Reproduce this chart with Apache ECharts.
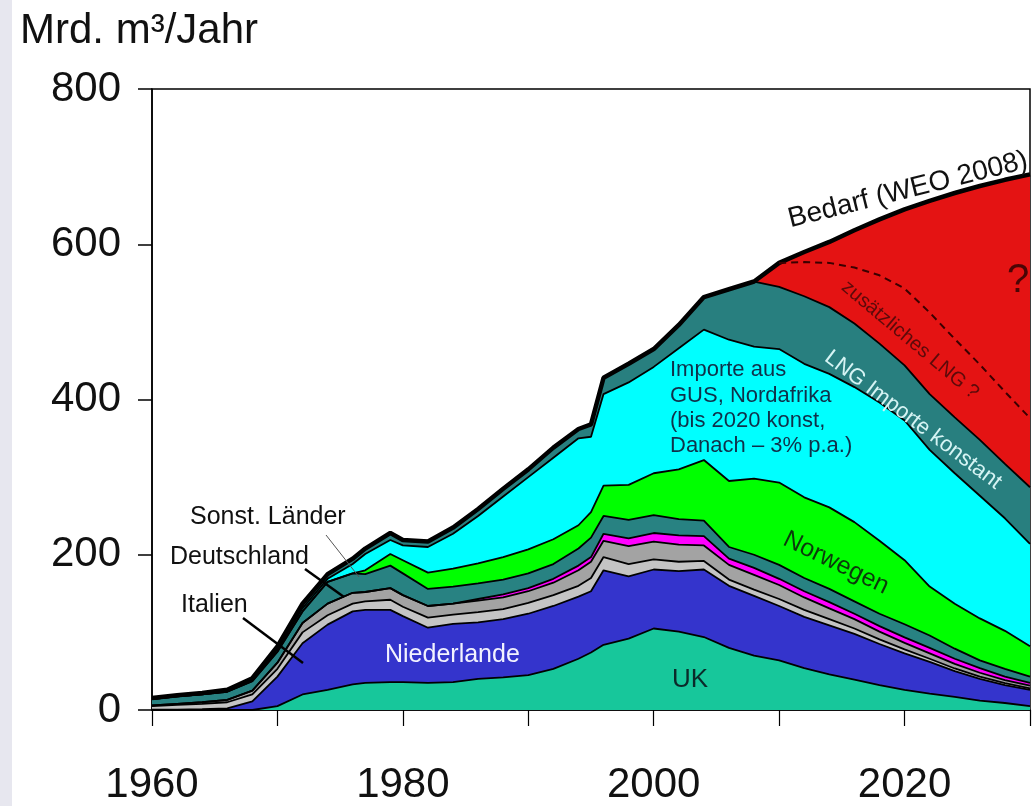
<!DOCTYPE html>
<html><head><meta charset="utf-8">
<script src="https://cdn.jsdelivr.net/npm/echarts@6/dist/echarts.min.js"></script>
<style>html,body{margin:0;padding:0;background:#fff;}#c{width:1033px;height:806px;}</style>
</head><body><div id="c"></div>
<script>
// Years (x values)
const years = [1960,1962,1964,1966,1968,1970,1972,1974,1976,1977,1979,1980,1982,1984,1986,1988,1990,1992,1994,1995,1996,1998,2000,2002,2004,2006,2008,2010,2012,2014,2016,2018,2020,2022,2024,2026,2028,2030];
// Layer values in Mrd. m³/Jahr (bottom to top)
const uk          = [0,0,0,0,0,5,20,26,33,35,36,36,35,36,40,42,45,53,66,74,84,92,105,101,94,80,70,64,54,46,39,32,26,21,17,12,9,5];
const niederlande = [0.3,0.5,1,2,11,38,66,84,94,94,93,85,71,75,73,75,79,81,80,79,96,80,76,78,87,80,77,70,66,63,59,53,47,41,33,28,23,21];
const italien     = [4.7,6,7,8,9,10,14,12,10,11,13,12,13,12,13,13,14,14,14,17,17,16,13,12,11,8,8,9,9,8,7,6,5,4,3.5,3,2.5,2];
const deutschland = [1,1.5,2,3,5,8,12,15,14,12,15,15,15,14,15,15,15,16,20,21,21,23,23,22,20,19,19,18,16,14,12,10,8.5,7,6,5,4,3.5];
const daenemark   = [0,0,0,0,0,0,0,0,0,0,0,0,0,0,2,4,4,5,6,6,9,10,11,12,12,8,9,8,8,8,7,7,7,7,6.5,6,4.5,3.5];
const sonstLaender= [8,9.5,10,10.5,12,14,15,28,25,23,29,28,22,22,20,19,19,19,22,25,23,24,23,21,20,15,17,18,17,17,16,16,17,16,13,10,10,8];
const norwegen    = [0,0,0,0,0,0,0,0,0,5,15,17,21,23,26,29,31,32,30,33,39,45,54,64,78,85,98,106,104,105,102,94,82.5,63,58,54,49,39];
const importeGUS  = [0,0,0,0.5,1,3,4,4,12,21,18,19,33,45,61,78,93,105,112,97,118,132,137,156,168,182,170,172,172,172,174,178,180,176,168,158,145,132];
const lngImporte  = [1.5,1.5,2,2,3,4,6,6,7,7,9,7,7,8,9,10,10,13,12,16,21,24,23,30,42,65,84,80,87,86,82,76,71,72,72,72,70,73];
const zusatzLNG   = [0,0,0,0,0,0,0,0,0,0,0,0,0,0,0,0,0,0,0,0,0,0,0,0,0,0,0,31,57,84,120,160,201,249,289,327,366,403];
// Bedarf (WEO 2008) – top line
const bedarf      = [15.5,19,22,26,41,82,137,175,195,208,228,219,217,235,259,285,310,338,362,368,428,446,465,496,532,542,552,576,590,603,618,632,645,656,666,675,683,690];
// dashed line "zusätzliches LNG ?"
const dashYears   = [2010,2012,2014,2016,2018,2020,2022,2024,2026,2028,2030];
const dashValues  = [576,577,576,570,560,543,512,478,445,410,376];
// axis tick labels
const xLabelYears = [1960,1980,2000,2020];

const FONT = 'Liberation Sans, Arial, sans-serif';
const layers = [
  {name:'UK', data:uk, color:'#17c79b'},
  {name:'Niederlande', data:niederlande, color:'#3434cc'},
  {name:'Italien', data:italien, color:'#c4c4c4'},
  {name:'Deutschland', data:deutschland, color:'#a3a3a3'},
  {name:'Dänemark', data:daenemark, color:'#ff00ff'},
  {name:'Sonst. Länder', data:sonstLaender, color:'#288282'},
  {name:'Norwegen', data:norwegen, color:'#00ff00'},
  {name:'Importe GUS, Nordafrika', data:importeGUS, color:'#00ffff'},
  {name:'LNG Importe', data:lngImporte, color:'#287f7f'},
  {name:'zusätzliches LNG', data:zusatzLNG, color:'#e41313'}
];
// cumulative tops (stack table built from the layer arrays)
let run = years.map(()=>0);
layers.forEach(l => { run = run.map((s,i)=>s + l.data[i]); l.cum = run.slice(); });
const pair = (xs, arr) => arr.map((v,i)=>[xs[i], v]);

const series = [];
// areas: draw top layer first, lower layers painted over it
layers.slice().reverse().forEach(l => series.push({
  type:'line', name:l.name, data:pair(years,l.cum), symbol:'none',
  lineStyle:{width:0}, areaStyle:{color:l.color, opacity:1, origin:'start'}, z:2, silent:true
}));
// black boundary lines between layers
layers.slice(0,9).forEach(l => series.push({
  type:'line', name:l.name+' Grenze', data:pair(years,l.cum), symbol:'none',
  lineStyle:{color:'#000', width:1.8}, z:3, silent:true
}));
series.push({type:'line', name:'Bedarf', data:pair(years,bedarf), symbol:'none',
  lineStyle:{color:'#000', width:4.5}, z:4, silent:true});
series.push({type:'line', name:'zusätzliches LNG ?', data:pair(dashYears,dashValues), symbol:'none',
  lineStyle:{color:'#3a0000', width:2, type:[7,5]}, z:4, silent:true});

const deg = d => d*Math.PI/180;
const txt = (t, x, y, size, fill, opts={}) => ({
  type:'text', x, y, rotation: opts.rot ? deg(opts.rot) : 0, z:10,
  style:{text:t, x:0, y:0, font: size+'px '+FONT, fill, align: opts.align||'left', verticalAlign:'middle'}
});

const option = {
  animation:false,
  backgroundColor:'#fff',
  grid:{left:152, top:89, width:882, height:625, show:true, borderColor:'#000', borderWidth:1.5, backgroundColor:'transparent'},
  xAxis:{type:'value', min:1960, max:2030, interval:10,
    axisLine:{lineStyle:{color:'#000', width:1.5}},
    axisTick:{show:true, length:16, lineStyle:{color:'#000', width:1.2}},
    axisLabel:{color:'#111', fontSize:42, fontFamily:FONT, margin:54,
      formatter: v => xLabelYears.includes(v) ? String(v) : ''},
    splitLine:{show:false}},
  yAxis:{type:'value', min:0, max:800, interval:200,
    axisLine:{show:true, lineStyle:{color:'#000', width:1.5}},
    axisTick:{show:true, length:14, lineStyle:{color:'#000', width:1.5}},
    axisLabel:{color:'#111', fontSize:42, fontFamily:FONT, margin:31},
    splitLine:{show:false}},
  series,
  graphic:[
    {type:'rect', shape:{x:0,y:0,width:12,height:806}, style:{fill:'#e7e7ef'}, z:-1},
    txt('Mrd. m³/Jahr', 20, 31, 42, '#111'),
    txt('Sonst. Länder', 190, 517, 25, '#111'),
    txt('Deutschland', 170, 557, 25, '#111'),
    txt('Italien', 181, 605, 25, '#111'),
    {type:'line', shape:{x1:326,y1:535,x2:359,y2:577}, style:{stroke:'#555', lineWidth:1}, z:10},
    {type:'line', shape:{x1:305,y1:569,x2:344,y2:597}, style:{stroke:'#000', lineWidth:2.5}, z:10},
    {type:'line', shape:{x1:243,y1:618,x2:303,y2:663}, style:{stroke:'#000', lineWidth:2.5}, z:10},
    txt('Niederlande', 385, 655, 25, '#f2f2ff'),
    txt('UK', 672, 680, 26, '#0b2a2a'),
    txt('Importe aus', 670, 370, 22, '#10304a'),
    txt('GUS, Nordafrika', 670, 396, 22, '#10304a'),
    txt('(bis 2020 konst,', 670, 421, 22, '#10304a'),
    txt('Danach – 3% p.a.)', 670, 446, 22, '#10304a'),
    txt('Norwegen', 836, 563, 25, '#0b3a0b', {align:'center', rot:-26}),
    txt('LNG Importe konstant', 913, 420, 22, '#d6f4f4', {align:'center', rot:-37}),
    txt('zusätzliches LNG ?', 910, 340, 20, '#5c0a0a', {align:'center', rot:-40}),
    txt('?', 1018, 281, 40, '#4a0505', {align:'center'}),
    txt('Bedarf (WEO 2008)', 908, 190, 28, '#111', {align:'center', rot:14})
  ]
};
const chart = echarts.init(document.getElementById('c'), null, {renderer:'canvas'});
chart.setOption(option);
</script></body></html>
